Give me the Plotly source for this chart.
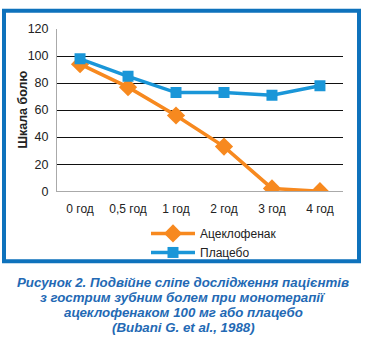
import plotly.graph_objects as go

W, H = 365, 342

time_points = ["0 год", "0,5 год", "1 год", "2 год", "3 год", "4 год"]
aceclofenac = [94, 77, 56, 33, 2, 0]
placebo = [98, 85, 73, 73, 71, 78]
y_ticks = [0, 20, 40, 60, 80, 100, 120]
caption_lines = [
    "Рисунок 2. Подвійне сліпе дослідження пацієнтів",
    "з гострим зубним болем при монотерапії",
    "ацеклофенаком 100 мг або плацебо",
    "(Bubani G. et al., 1988)",
]

ORANGE = "#F7891F"
BLUE = "#1A96D8"
FRAME = "#0E72BC"
CAPTION = "#2369B4"

fig = go.Figure()
fig.add_trace(go.Scatter(
    x=time_points, y=aceclofenac, name="Ацеклофенак",
    mode="lines+markers",
    line=dict(color=ORANGE, width=3.5),
    marker=dict(symbol="diamond", size=14, color=ORANGE),
))
fig.add_trace(go.Scatter(
    x=time_points, y=placebo, name="Плацебо",
    mode="lines+markers",
    line=dict(color=BLUE, width=3.5),
    marker=dict(symbol="square", size=11, color=BLUE),
))

x0, x1 = 57 / W, 343 / W
y_top, y_bot = 1 - 23 / H, 1 - 192 / H

annotations = [
    # y-axis title
    dict(
        xref="paper", yref="paper", x=23 / W, y=1 - 107 / H,
        xanchor="center", yanchor="middle", showarrow=False,
        textangle=-90, text="<b>Шкала болю</b>",
        font=dict(size=12.5, color="#222"),
    ),
]
# figure caption, one annotation per line for tight leading
caption_centers = [287, 303, 319, 334]
for line, cy in zip(caption_lines, caption_centers):
    annotations.append(dict(
        xref="paper", yref="paper", x=183 / W, y=1 - cy / H,
        xanchor="center", yanchor="middle", showarrow=False,
        text=f"<b><i>{line}</i></b>",
        font=dict(size=13.3, color=CAPTION, family="Liberation Sans, Arial, sans-serif"),
    ))

fig.update_layout(
    width=W, height=H,
    margin=dict(l=0, r=0, t=0, b=0),
    paper_bgcolor="white", plot_bgcolor="white",
    font=dict(family="Liberation Sans, Arial, sans-serif", size=12, color="#222"),
    showlegend=True,
    legend=dict(
        x=146 / W, y=1 - 221 / H, xanchor="left", yanchor="top",
        bgcolor="rgba(0,0,0,0)", font=dict(size=12, color="#222"),
        tracegroupgap=0, itemwidth=44,
    ),
    xaxis=dict(
        domain=[x0, x1], type="category",
        showgrid=False, showline=True, linecolor="#AAAAAA", linewidth=1,
        ticks="", ticklabelstandoff=6, tickfont=dict(size=12, color="#222"),
        fixedrange=True,
    ),
    yaxis=dict(
        domain=[y_bot, y_top], range=[0, 120],
        tickvals=y_ticks, ticktext=[str(v) for v in y_ticks],
        showgrid=True, gridcolor="#111111", gridwidth=1,
        showline=True, linecolor="#AAAAAA", linewidth=1,
        zeroline=False, ticks="", ticklabelstandoff=5,
        tickfont=dict(size=12.5, color="#222"),
    ),
    shapes=[
        dict(type="rect", xref="paper", yref="paper",
             x0=4 / W, x1=359 / W, y0=1 - 265 / H, y1=1 - 4 / H,
             line=dict(color=FRAME, width=4), fillcolor="rgba(0,0,0,0)"),
    ],
    annotations=annotations,
)

fig.write_html("out.html")
